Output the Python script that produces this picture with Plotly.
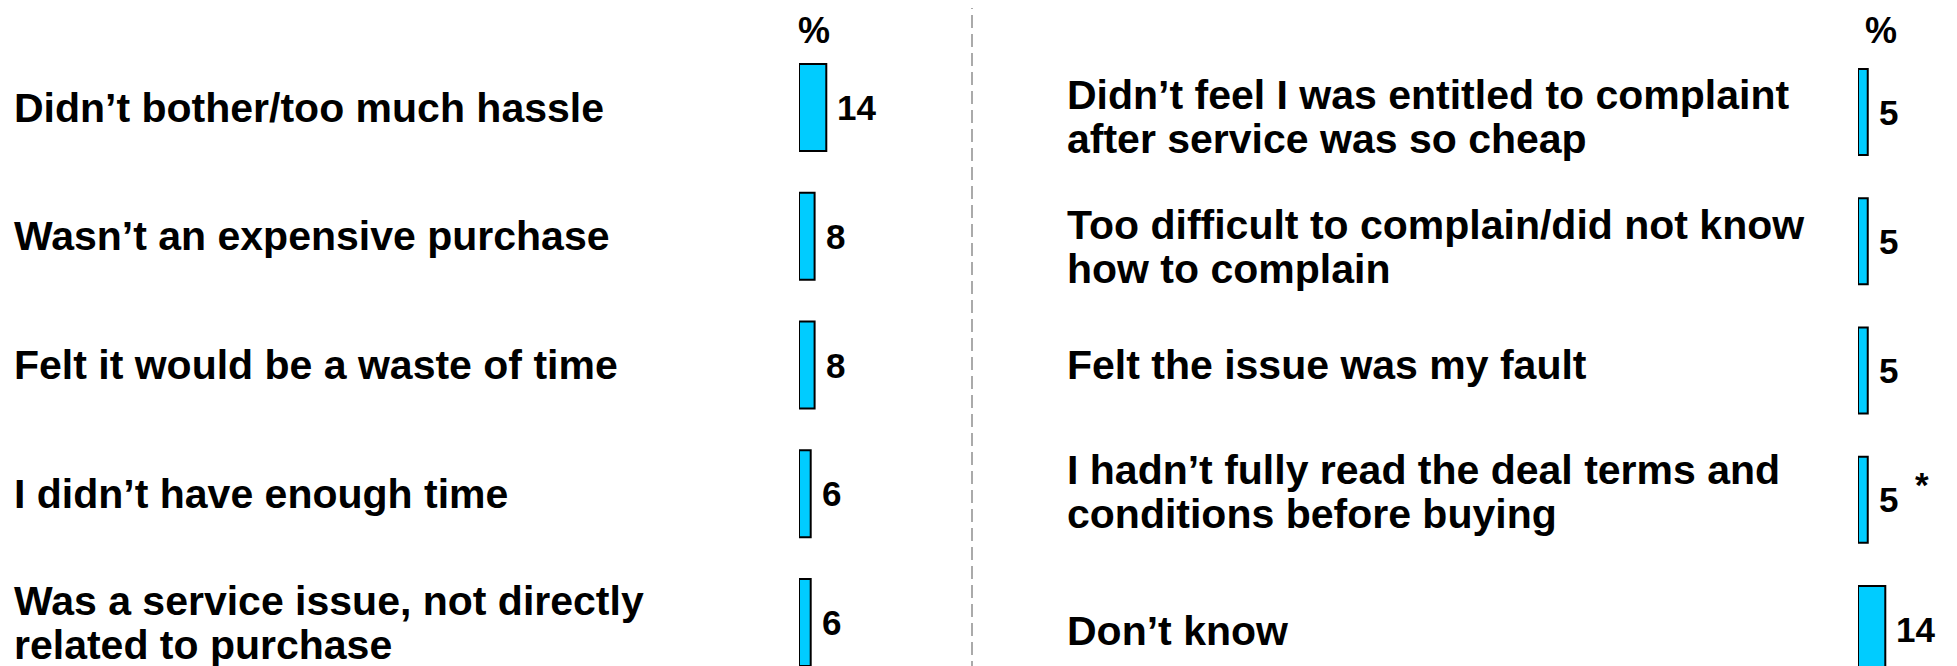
import plotly.graph_objects as go

# ---- data ----
left_categories = [
    "Didn’t bother/too much hassle",
    "Wasn’t an expensive purchase",
    "Felt it would be a waste of time",
    "I didn’t have enough time",
    "Was a service issue, not directly<br>related to purchase",
]
left_values = [14, 8, 8, 6, 6]

right_categories = [
    "Didn’t feel I was entitled to complaint<br>after service was so cheap",
    "Too difficult to complain/did not know<br>how to complain",
    "Felt the issue was my fault",
    "I hadn’t fully read the deal terms and<br>conditions before buying",
    "Don’t know",
]
right_values = [5, 5, 5, 5, 14]
right_notes = ["", "", "", "*", ""]

unit_label = "%"

# ---- style ----
W, H = 1957, 666
FONT = "Liberation Sans, Arial, sans-serif"
BAR_FILL = "#00CCFF"
LABEL_SIZE = 41
VALUE_SIZE = 35
LINE_GAP = 44
PX_PER_UNIT = 1.95

left_x0 = 791
right_x0 = 1850
left_range = 30
right_range = 50
right_label_yshift = [-5, -6, 6, 8, -2]


def px(v):
    return v / W


fig = go.Figure()

fig.add_trace(go.Bar(
    x=left_values, y=left_categories, orientation="h",
    marker=dict(color=BAR_FILL, line=dict(color="black", width=2)),
    width=0.676, xaxis="x", yaxis="y", hoverinfo="skip", showlegend=False,
))
fig.add_trace(go.Bar(
    x=right_values, y=right_categories, orientation="h",
    marker=dict(color=BAR_FILL, line=dict(color="black", width=2)),
    width=0.665, xaxis="x2", yaxis="y2", hoverinfo="skip", showlegend=False,
))

annotations = []


def add_labels(cats, yref, x_px, extra):
    for c, ex in zip(cats, extra):
        lines = c.split("<br>")
        n = len(lines)
        for i, ln in enumerate(lines):
            shift = (n - 1) / 2 * LINE_GAP - i * LINE_GAP + ex
            annotations.append(dict(
                x=px(x_px), xref="paper", xanchor="left",
                y=c, yref=yref, yanchor="middle", yshift=shift,
                text="<b>" + ln + "</b>", showarrow=False,
                font=dict(family=FONT, size=LABEL_SIZE, color="black"),
            ))


add_labels(left_categories, "y", 4, [0] * len(left_categories))
add_labels(right_categories, "y2", 1057, right_label_yshift)

for c, v in zip(left_categories, left_values):
    annotations.append(dict(
        x=v, xref="x", xanchor="left", y=c, yref="y", yanchor="middle",
        xshift=9, text="<b>%d</b>" % v, showarrow=False,
        font=dict(family=FONT, size=VALUE_SIZE, color="black"),
    ))
for c, v, n in zip(right_categories, right_values, right_notes):
    annotations.append(dict(
        x=v, xref="x2", xanchor="left", y=c, yref="y2", yanchor="middle",
        xshift=9, text="<b>%d</b>" % v, showarrow=False,
        font=dict(family=FONT, size=VALUE_SIZE, color="black"),
    ))
    if n:
        annotations.append(dict(
            x=v, xref="x2", xanchor="left", y=c, yref="y2", yanchor="middle",
            xshift=45, yshift=15, text="<b>%s</b>" % n, showarrow=False,
            font=dict(family=FONT, size=VALUE_SIZE, color="black"),
        ))

for cx in (806, 1873):
    annotations.append(dict(
        x=px(cx), xref="paper", xanchor="center",
        y=1 - 23 / H, yref="paper", yanchor="middle",
        text="<b>" + unit_label + "</b>", showarrow=False,
        font=dict(family=FONT, size=36, color="black"),
    ))

fig.update_layout(
    width=W, height=H,
    margin=dict(l=0, r=0, t=0, b=0),
    paper_bgcolor="white", plot_bgcolor="white",
    xaxis=dict(domain=[px(left_x0), px(left_x0 + PX_PER_UNIT * left_range)],
               range=[0, left_range], visible=False, anchor="y"),
    yaxis=dict(domain=[0, 1], range=[4.400, -0.773], visible=False,
               anchor="x", type="category",
               categoryorder="array", categoryarray=left_categories),
    xaxis2=dict(domain=[px(right_x0), px(right_x0 + PX_PER_UNIT * right_range)],
                range=[0, right_range], visible=False, anchor="y2"),
    yaxis2=dict(domain=[0, 1], range=[4.348, -0.805], visible=False,
                anchor="x2", type="category",
                categoryorder="array", categoryarray=right_categories),
    annotations=annotations,
    shapes=[dict(type="line", xref="paper", yref="paper",
                 x0=px(964), x1=px(964), y0=0, y1=1,
                 line=dict(color="#AAAAAA", width=2, dash="13px,6px"))],
)

fig.write_html("out.html")
